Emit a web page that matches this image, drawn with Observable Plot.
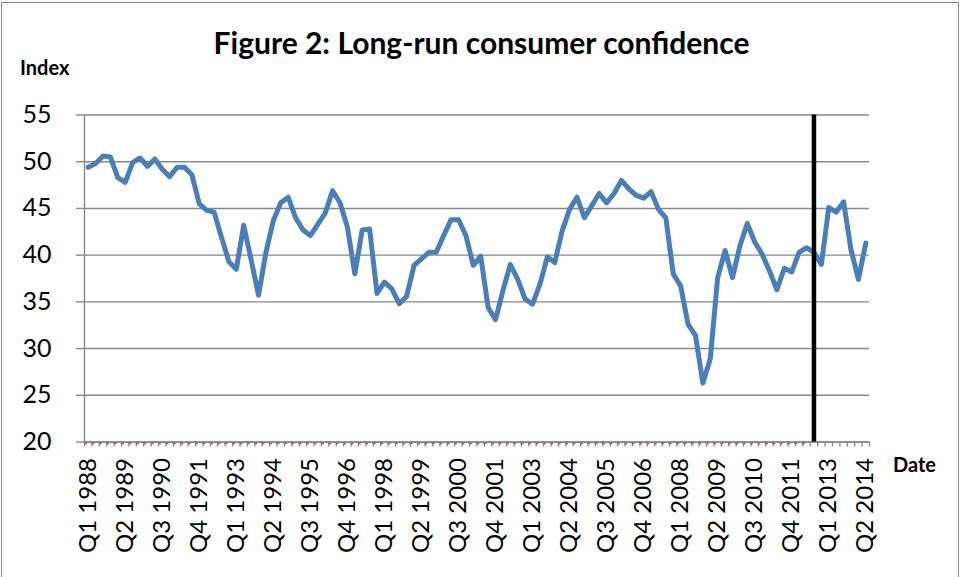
<!DOCTYPE html>
<html>
<head>
<meta charset="utf-8">
<script src="https://cdn.jsdelivr.net/npm/d3@7"></script>
<script src="https://cdn.jsdelivr.net/npm/@observablehq/plot@0.6"></script>
<style>
  body { margin: 0; background: #fff; }
  #wrap { position: relative; width: 963px; height: 577px; overflow: hidden; font-family: Lato, "Open Sans", sans-serif; }
  #frame { position: absolute; left: 1px; top: 2px; width: 958px; height: 590px; border: 1px solid #8a8a8a; box-sizing: border-box; }
  #title { position: absolute; left: 0; width: 963px; top: 24px; text-align: center; font-weight: 700; font-size: 30px; color: #000; }
  #ylab { position: absolute; left: 20px; top: 55px; font-weight: 700; font-size: 20px; }
  #xlab { position: absolute; left: 893px; top: 452px; font-weight: 700; font-size: 20px; }
  #chart { position: absolute; left: 0; top: 0; }
</style>
</head>
<body>
<div id="wrap">
  <div id="frame"></div>
  <div id="chart"></div>
  <div id="title">Figure 2: Long-run consumer confidence</div>
  <div id="ylab">Index</div>
  <div id="xlab">Date</div>
</div>
<script>
// Quarterly index, Q1 1988 .. Q2 2014
const firstYear = 1988;
const confidence = [
  49.4, 49.8, 50.6, 50.5, 48.3, 47.8, 49.9, 50.4, 49.5, 50.3,
  49.2, 48.4, 49.4, 49.4, 48.6, 45.5, 44.8, 44.6, 41.9, 39.3,
  38.5, 43.2, 39.5, 35.7, 40.3, 43.7, 45.6, 46.2, 44.0, 42.7,
  42.1, 43.3, 44.5, 46.9, 45.6, 43.0, 38.0, 42.7, 42.8, 35.9,
  37.1, 36.4, 34.8, 35.6, 38.9, 39.6, 40.3, 40.3, 42.1, 43.8,
  43.8, 42.1, 38.9, 39.9, 34.4, 33.1, 36.2, 39.0, 37.4, 35.3,
  34.75, 36.9, 39.8, 39.2, 42.6, 44.9, 46.2, 44.0, 45.3, 46.6,
  45.6, 46.6, 48.0, 47.1, 46.4, 46.1, 46.8, 44.9, 44.0, 38.0,
  36.7, 32.6, 31.4, 26.3, 28.9, 37.6, 40.5, 37.6, 41.0, 43.4,
  41.4, 40.1, 38.3, 36.3, 38.6, 38.2, 40.3, 40.8, 40.3, 39.0,
  45.1, 44.6, 45.7, 40.6, 37.4, 41.3
];
const tickLabels = ["Q1 1988","Q2 1989","Q3 1990","Q4 1991","Q1 1993","Q2 1994","Q3 1995","Q4 1996",
  "Q1 1998","Q2 1999","Q3 2000","Q4 2001","Q1 2003","Q2 2004","Q3 2005","Q4 2006","Q1 2008",
  "Q2 2009","Q3 2010","Q4 2011","Q1 2013","Q2 2014"];
const yTicks = [20, 25, 30, 35, 40, 45, 50, 55];
const markerQuarter = "Q3 2012";        // black vertical marker
const baselineSeriesEnd = "Q2 2012";    // red dashed series runs to here (at axis floor)

const quarters = confidence.map((_, i) => `Q${(i % 4) + 1} ${firstYear + Math.floor(i / 4)}`);
const data = confidence.map((v, i) => ({i, q: quarters[i], v}));
const labelData = tickLabels.map(l => ({i: quarters.indexOf(l), l}));
const markerIdx = quarters.indexOf(markerQuarter);
const baseEndIdx = quarters.indexOf(baselineSeriesEnd);
const boundaries = d3.range(-0.5, confidence.length, 1);
const yMin = d3.min(yTicks), yMax = d3.max(yTicks);

const chart = Plot.plot({
  width: 963,
  height: 577,
  marginLeft: 84,
  marginRight: 94,
  marginTop: 114.5,
  marginBottom: 135.5,
  style: {fontFamily: "Lato, 'Open Sans', sans-serif", background: "transparent", overflow: "visible"},
  x: {domain: [-0.5, confidence.length - 0.5]},
  y: {domain: [yMin, yMax]},
  marks: [
    Plot.gridY(yTicks, {stroke: "#888888", strokeOpacity: 1, strokeWidth: 1.4}),
    Plot.ruleX([-0.5], {y1: yMin, y2: yMax, stroke: "#888888", strokeWidth: 1.4}),
    Plot.axisY({ticks: yTicks, tickSize: 8, tickPadding: 25, stroke: "#888888", strokeWidth: 1.4, fill: "#000", fontSize: 25, label: null}),
    Plot.ruleY([yMin], {stroke: "#888888", strokeWidth: 1.4}),
    Plot.axisX({ticks: boundaries, tickSize: 5, tickFormat: () => "", stroke: "#888888", strokeWidth: 1.3, label: null}),
    Plot.ruleY([yMin], {x1: -0.5, x2: baseEndIdx + 0.3, dy: 1.5, stroke: "#c0504d", strokeWidth: 1.5, strokeDasharray: "3,4.4"}),
    Plot.text(labelData, {x: "i", text: "l", frameAnchor: "bottom", dy: 16, rotate: -90, textAnchor: "end", lineAnchor: "middle", fontSize: 24, fill: "#000"}),
    Plot.line(data, {x: "i", y: "v", stroke: "#4a7ebb", strokeWidth: 5, strokeLinejoin: "round", strokeLinecap: "round"}),
    Plot.ruleX([markerIdx], {y1: yMin, y2: yMax, stroke: "#000", strokeWidth: 4.5})
  ]
});
document.getElementById("chart").appendChild(chart);
</script>
</body>
</html>
